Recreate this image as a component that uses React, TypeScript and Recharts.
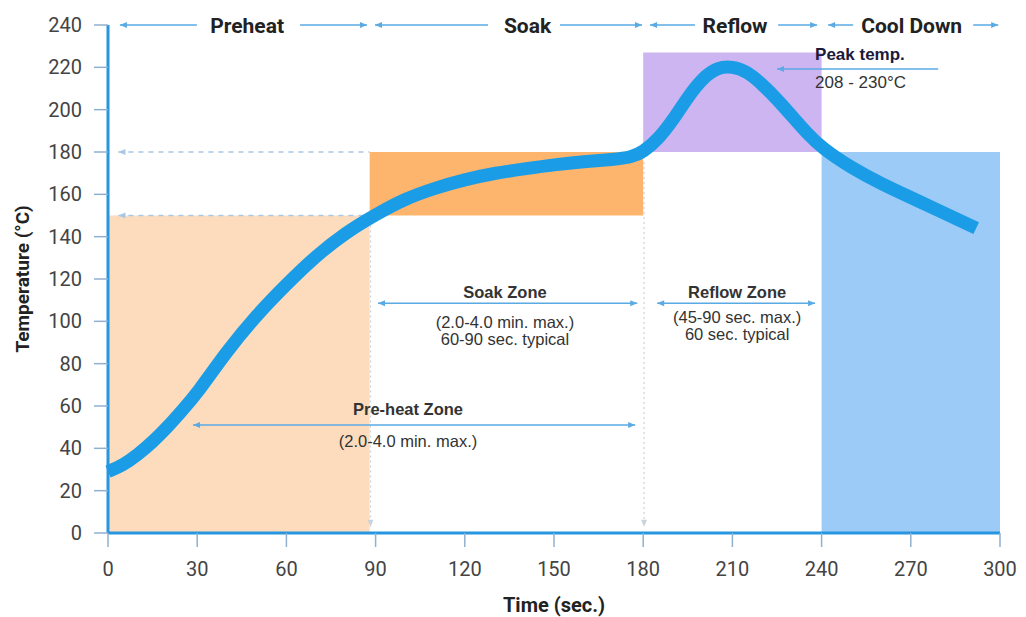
import {
  ComposedChart,
  Line,
  XAxis,
  YAxis,
  ReferenceArea,
  ReferenceLine,
  ReferenceDot,
  Label,
} from "recharts";

// reflow temperature profile (seconds, °C)
const times = [
  0, 5, 10, 15, 20, 25, 30, 40, 50, 60, 70, 80, 90, 100, 110, 120, 130, 140, 150, 160, 170,
  176, 180, 185, 190, 195, 200, 205, 210, 215, 220, 225, 230, 235, 240, 250, 260, 270, 280, 292,
];
const temps = [
  29, 32, 37, 43, 50, 58, 66, 86, 103, 117.5, 131, 142, 150.5, 158, 163, 167, 170, 172, 174, 175.5,
  176.5, 177.5, 180, 186, 195, 206, 215, 220, 220.5, 218, 212, 205, 197, 189, 182, 172.5, 165,
  158.5, 152, 144,
];

const xTicks = [0, 30, 60, 90, 120, 150, 180, 210, 240, 270, 300];
const yTicks = [0, 20, 40, 60, 80, 100, 120, 140, 160, 180, 200, 220, 240];

// shaded zones: [x1, x2, y1, y2]
const zoneBoxes: [number, number, number, number][] = [
  [0, 88, 0, 150],
  [88, 180, 150, 180],
  [180, 240, 180, 227],
  [240, 300, 0, 180],
];
const zoneFills = ["#fddcbd", "#fdb56d", "#cdb5f1", "#9dcbf8"];

// header labels along the top
const headerNames = ["Preheat", "Soak", "Reflow", "Cool Down"];
const headerCenters = [46.8, 141.1, 210.9, 270.3];
const headerY = 236.2;
// header arrow segments [xFrom, xTo], arrowhead at the outer end
const headerLeftSegs: [number, number][] = [[4, 29.9], [89.8, 127.8], [182.3, 197.4], [242.2, 250.6]];
const headerRightSegs: [number, number][] = [[64.6, 87.1], [152, 179.6], [225.4, 238.5], [291, 299.4]];

// annotation arrows: x1, y1, x2, y2, head at start, head at end
type Arrow = [number, number, number, number, boolean, boolean];
const zoneArrows: Arrow[] = [
  [90.8, 108.6, 178, 108.6, true, true], // soak zone
  [184.7, 108.6, 237.8, 108.6, true, true], // reflow zone
  [28.6, 51, 177.3, 51, true, true], // pre-heat zone
  [225, 219.2, 279.2, 219.2, true, false], // peak temp
];
const guideH: Arrow[] = [
  [3.5, 180, 88, 180, true, false],
  [3.5, 150, 88, 150, true, false],
];
const guideV: Arrow[] = [
  [88.3, 150, 88.3, 3, false, true],
  [180.3, 180, 180.3, 3, false, true],
];

// annotation text: x, y, text, bold, anchor
type Note = [number, number, string, boolean, "start" | "middle"];
const notes: Note[] = [
  [133.5, 111, "Soak Zone", true, "middle"],
  [133.5, 96.8, "(2.0-4.0 min. max.)", false, "middle"],
  [133.5, 88.8, "60-90 sec. typical", false, "middle"],
  [211.6, 111, "Reflow Zone", true, "middle"],
  [211.6, 99.2, "(45-90 sec. max.)", false, "middle"],
  [211.6, 91.2, "60 sec. typical", false, "middle"],
  [100.9, 55.7, "Pre-heat Zone", true, "middle"],
  [100.9, 40.8, "(2.0-4.0 min. max.)", false, "middle"],
  [237.8, 223.4, "Peak temp.", true, "start"],
  [237.8, 210.2, "208 - 230°C", false, "start"],
];

const data = times.map((t, i) => ({ t, temp: temps[i] }));

const BLUE = "#1a9de6";
const AXIS_BLUE = "#2596df";
const ARROW = "#5aaae4";
const TICK_FONT = "Roboto, 'Liberation Sans', sans-serif";
const NOTE_FONT = "'Liberation Sans', Arial, sans-serif";

function head(x: number, y: number, a: number, color: string) {
  const L = 7;
  const W = 3;
  const bx = x - L * Math.cos(a);
  const by = y - L * Math.sin(a);
  const px = -Math.sin(a) * W;
  const py = Math.cos(a) * W;
  return (
    <polygon
      points={`${x},${y} ${bx + px},${by + py} ${bx - px},${by - py}`}
      fill={color}
    />
  );
}

function arrowShape(start: boolean, end: boolean, color: string, width: number, dash?: string) {
  return (p: any) => {
    const { x1, y1, x2, y2 } = p;
    const a = Math.atan2(y2 - y1, x2 - x1);
    return (
      <g>
        <line
          x1={x1}
          y1={y1}
          x2={x2}
          y2={y2}
          stroke={color}
          strokeWidth={width}
          strokeDasharray={dash}
        />
        {start && head(x1, y1, a + Math.PI, color)}
        {end && head(x2, y2, a, color)}
      </g>
    );
  };
}

function renderArrow(a: Arrow, key: string, color: string, width: number, dash?: string) {
  return (
    <ReferenceLine
      key={key}
      segment={[
        { x: a[0], y: a[1] },
        { x: a[2], y: a[3] },
      ]}
      ifOverflow="visible"
      shape={arrowShape(a[4], a[5], color, width, dash)}
    />
  );
}

export default function App() {
  return (
    <div style={{ width: 1010, height: 609 }}>
      <ComposedChart
        width={1010}
        height={609}
        data={data}
        margin={{ top: 17, right: 18, bottom: 0, left: 0 }}
      >
        {zoneBoxes.map((b, i) => (
          <ReferenceArea
            key={`z${i}`}
            x1={b[0]}
            x2={b[1]}
            y1={b[2]}
            y2={b[3]}
            fill={zoneFills[i]}
            fillOpacity={1}
            stroke="none"
            ifOverflow="visible"
          />
        ))}
        {guideH.map((a, i) => renderArrow(a, `gh${i}`, "#a8c8e6", 1.5, "5 5"))}
        {guideV.map((a, i) => renderArrow(a, `gv${i}`, "#c9d3dc", 1.2, "2 3"))}
        <XAxis
          dataKey="t"
          type="number"
          domain={[0, 300]}
          ticks={xTicks}
          interval={0}
          height={84}
          axisLine={{ stroke: AXIS_BLUE, strokeWidth: 3 }}
          tickLine={{ stroke: "#8fb1cf", strokeWidth: 1.5 }}
          tickSize={14}
          tickMargin={15}
          tick={{ fontSize: 20, fill: "#444", fontFamily: TICK_FONT }}
        >
          <Label
            value="Time (sec.)"
            position="insideBottom"
            offset={5}
            style={{ fontSize: 20, fontWeight: 700, fill: "#222", fontFamily: TICK_FONT }}
          />
        </XAxis>
        <YAxis
          type="number"
          domain={[0, 240]}
          ticks={yTicks}
          interval={0}
          width={100}
          axisLine={{ stroke: AXIS_BLUE, strokeWidth: 3 }}
          tickLine={{ stroke: "#8fb1cf", strokeWidth: 1.5 }}
          tickSize={14}
          tickMargin={12}
          tick={{ fontSize: 20, fill: "#444", fontFamily: TICK_FONT }}
        >
          <Label
            value="Temperature (°C)"
            angle={-90}
            position="insideLeft"
            offset={14}
            style={{
              textAnchor: "middle",
              fontSize: 19,
              fontWeight: 700,
              fill: "#222",
              fontFamily: TICK_FONT,
            }}
          />
        </YAxis>
        <Line
          type="basis"
          dataKey="temp"
          stroke={BLUE}
          strokeWidth={13}
          dot={false}
          activeDot={false}
          isAnimationActive={false}
        />
        {zoneArrows.map((a, i) => renderArrow(a, `za${i}`, ARROW, 1.5))}
        {headerLeftSegs.map((s, i) =>
          renderArrow([s[0], 240, s[1], 240, true, false], `hl${i}`, ARROW, 1.5)
        )}
        {headerRightSegs.map((s, i) =>
          renderArrow([s[0], 240, s[1], 240, false, true], `hr${i}`, ARROW, 1.5)
        )}
        {headerNames.map((name, i) => (
          <ReferenceDot
            key={`hn${i}`}
            x={headerCenters[i]}
            y={headerY}
            ifOverflow="visible"
            shape={(p: any) => (
              <text
                x={p.cx}
                y={p.cy}
                textAnchor="middle"
                fontSize={21}
                fontWeight={700}
                fill="#222"
                fontFamily={TICK_FONT}
              >
                {name}
              </text>
            )}
          />
        ))}
        {notes.map((n, i) => (
          <ReferenceDot
            key={`n${i}`}
            x={n[0]}
            y={n[1]}
            ifOverflow="visible"
            shape={(p: any) => (
              <text
                x={p.cx}
                y={p.cy}
                textAnchor={n[4]}
                fontSize={n[4] === "start" ? 17 : 16.5}
                fontWeight={n[3] ? 700 : 400}
                fill={n[2] === "Peak temp." ? "#1c1a3c" : "#333"}
                fontFamily={NOTE_FONT}
              >
                {n[2]}
              </text>
            )}
          />
        ))}
      </ComposedChart>
    </div>
  );
}
